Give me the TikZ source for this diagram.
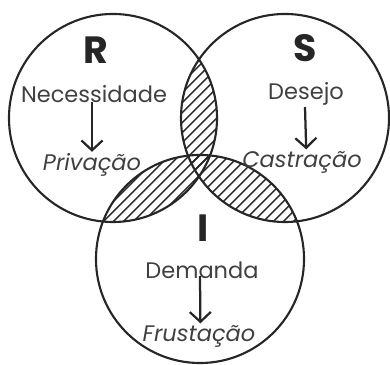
\documentclass[tikz,border=0pt]{standalone}
\usepackage{fontspec}
\setmainfont{Poppins}
\usetikzlibrary{arrows.meta}
\tikzstyle{ring}=[draw=black!85, line width=1.5pt]
\tikzstyle{hatch}=[black!85, line width=1pt]
\tikzstyle{letter}=[font=\bfseries\fontsize{27}{27}\selectfont, text=black!85, inner sep=0pt]
\tikzstyle{term}=[font=\fontsize{16}{16}\selectfont, text=black!75, inner sep=1pt]
\tikzstyle{effect}=[term, font=\itshape\fontsize{16}{16}\selectfont]
\tikzstyle{lead}=[-{Straight Barb[length=7pt, width=15pt]}, line width=1.6pt, black!85]

\begin{document}
\begin{tikzpicture}[x=0.025cm, y=-0.025cm]
        \useasboundingbox (0,0) rectangle (390,365);
        \coordinate (cR) at (113,118);
        \coordinate (cS) at (285,118);
        \coordinate (cI) at (200,259);
        % hatched overlaps
        \begin{scope}
            \clip (cR) circle [radius=2.6cm];
            \clip (cS) circle [radius=2.6cm];
            \foreach \k in {-260,-250,...,330} \draw[hatch] (\k,365) -- ++(400,-400);
        \end{scope}
        \begin{scope}
            \clip (cR) circle [radius=2.6cm];
            \clip (cI) circle [radius=2.6cm];
            \foreach \k in {-260,-250,...,330} \draw[hatch] (\k,365) -- ++(400,-400);
        \end{scope}
        \begin{scope}
            \clip (cS) circle [radius=2.6cm];
            \clip (cI) circle [radius=2.6cm];
            \foreach \k in {-260,-250,...,330} \draw[hatch] (\k,365) -- ++(400,-400);
        \end{scope}
        \draw[ring] (cR) circle [radius=2.6cm];
        \draw[ring] (cS) circle [radius=2.6cm];
        \draw[ring] (cI) circle [radius=2.6cm];
        % labels
        \node[letter] (R) at (96,50)  {R};
        \node[letter] (S) at (305,48) {S};
        \node[letter] (I) at (203,228) {I};
        \node[term]   (nec)  at (94,94)   {Necessidade};
        \node[effect] (priv) at (92,165)  {Privação};
        \node[term]   (des)  at (306,94)  {Desejo};
        \node[effect] (cas)  at (302,162) {Castração};
        \node[term]   (dem)  at (202,270) {Demanda};
        \node[effect] (fru)  at (199,336) {Frustação};
        \draw[lead] (nec.south -| priv.north) ++(0,-2) -- (priv.north);
        \draw[lead] (des.south -| cas.north) ++(3,0) -- ([xshift=3]cas.north);
        \draw[lead] (dem.south -| fru.north) ++(1,-4) -- ([xshift=1]fru.north);
    \end{tikzpicture}
\end{document}
